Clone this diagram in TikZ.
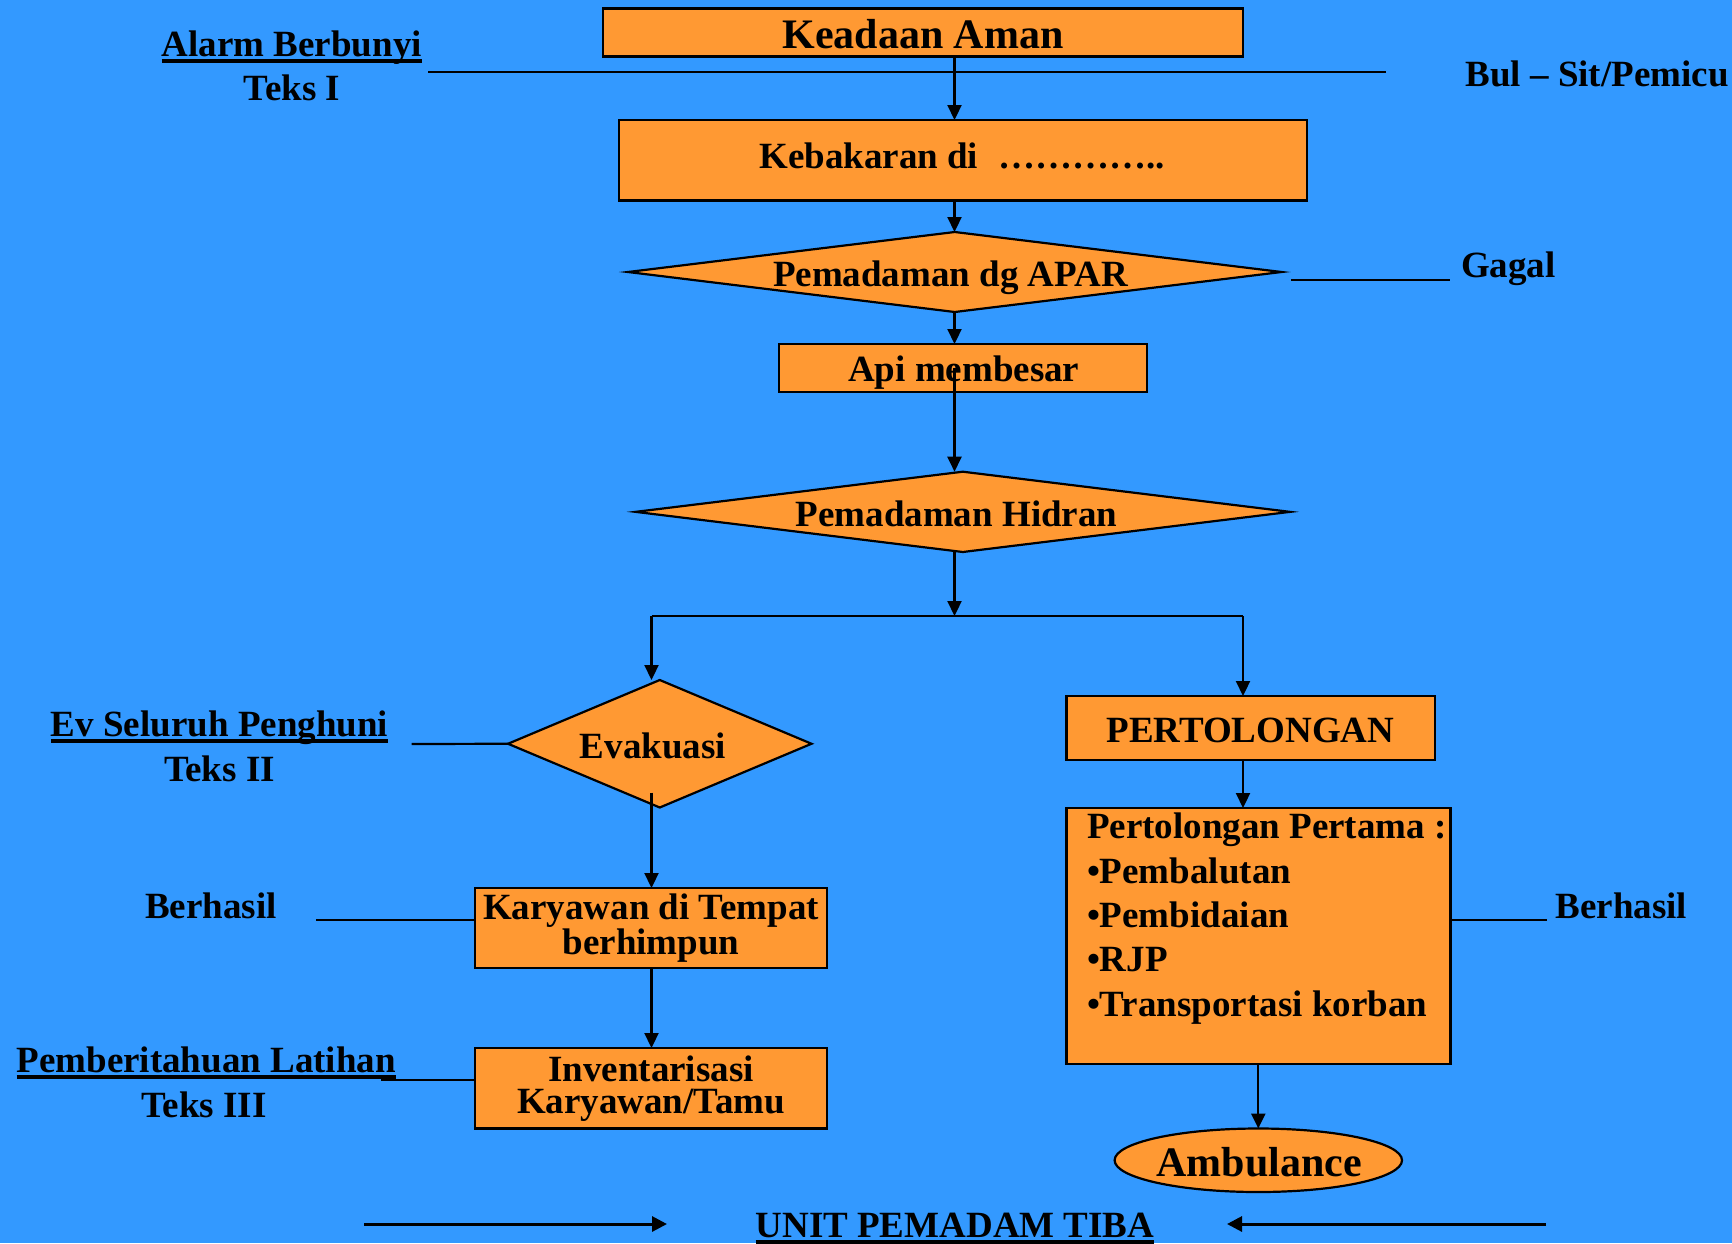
\documentclass[tikz,border=0pt]{standalone}
\usepackage{fontspec}
\setmainfont{Liberation Serif}
\usetikzlibrary{shapes.geometric,arrows.meta}
\definecolor{bgblue}{RGB}{51,153,255}
\definecolor{boxorange}{RGB}{255,153,51}
\newsavebox\ulbx
\newcommand\ulx[1]{\sbox\ulbx{#1}\rlap{\rule[-6.5pt]{\wd\ulbx}{3.2pt}}\usebox\ulbx}
\begin{document}
\begin{tikzpicture}[x=1pt,y=-1pt,
  every node/.style={inner sep=0pt, outer sep=0pt, font=\bfseries\fontsize{37}{37}\selectfont},
  box/.style={draw, fill=boxorange, line width=2.2pt},
  twoline/.style={align=center, font=\bfseries\fontsize{37}{32}\selectfont},
  dia/.style={diamond, draw, fill=boxorange, line width=2.2pt},
  ln/.style={line width=2.2pt},
  arr/.style={line width=2.2pt, -{Triangle[length=15pt,width=14pt]}},
  arrb/.style={line width=3pt, -{Triangle[length=15pt,width=15pt]}},
  big/.style={font=\bfseries\fontsize{42}{42}\selectfont},
  lbl/.style={anchor=base},
  lblw/.style={anchor=base west}]

\fill[bgblue] (0,0) rectangle (1732,1243);
\useasboundingbox (0,0) rectangle (1732,1243);

% column coordinates
\coordinate (colM) at (954.5,0);
\coordinate (colL) at (651.5,0);
\coordinate (colR) at (1243,0);
\coordinate (split) at (954.5,616);

% side line (drawn first so arrows sit on top)
\coordinate (bulL) at (428,72);
\coordinate (bulR) at (1386,72);
\draw[ln] (bulL) -- (bulR);

% boxes
\node[box, minimum width=640, minimum height=48] (keadaan) at (923,32.5) {};
\node[box, minimum width=688, minimum height=80.5] (kebakaran) at (963,160.25) {};
\node[dia, minimum width=653.5, minimum height=80] (apar) at (954.75,272) {};
\node[box, minimum width=368, minimum height=48.3] (api) at (963,368.15) {};
\node[dia, minimum width=654.4, minimum height=80.3] (hidran) at (962.8,511.85) {};
\node[dia, minimum width=303.5, minimum height=127.5] (evak) at (659.75,743.75) {};
\node[box, twoline, minimum width=352, minimum height=80] (kary) at (651,928) {Karyawan di Tempat\\berhimpun};
\node[box, twoline, minimum width=352, minimum height=80.5] (inv) at (651,1088.25) {Inventarisasi\\Karyawan/Tamu};
\node[box, minimum width=368.5, minimum height=64] (pert) at (1250.75,728) {};
\node[box, minimum width=384, minimum height=256] (pp) at (1258.5,936) {};
\node[ellipse, draw, fill=boxorange, line width=2.2pt, minimum width=287.4, minimum height=63.5] (amb) at (1258.3,1160.25) {};

% box texts
\node[lbl, big] (keadaanT) at (923,48.3) {Keadaan Aman};
\node[lbl] (kebT) at (962,168) {Kebakaran di\hspace{20pt}…………..};
\node[lbl] (aparT) at (950.5,286.7) {Pemadaman dg APAR};
\node[lbl] (apiT) at (963.8,381) {Api membesar};
\node[lbl] (hidranT) at (956.5,526) {Pemadaman Hidran};
\node[lbl] (evakT) at (652.9,758) {Evakuasi};
\node[lbl] (pertT) at (1250.4,742) {PERTOLONGAN};
\node[lblw] (ppT0) at (1087,838.5) {Pertolongan Pertama :};
\node[lblw] (ppT1) at (1087,883) {•Pembalutan};
\node[lblw] (ppT2) at (1087,927) {•Pembidaian};
\node[lblw] (ppT3) at (1087,971.6) {•RJP};
\node[lblw] (ppT4) at (1087,1016) {•Transportasi korban};
\node[lbl, big] (ambT) at (1259,1176.7) {Ambulance};

% side labels
\node[lbl] (alarm) at (291.8,56) {\ulx{Alarm Berbunyi}};
\node[lbl] (teks1) at (292,100) {Teks I};
\node[lblw] (bul) at (1465.5,86.7) {Bul – Sit/Pemicu};
\node[lblw] (gagal) at (1461,277.7) {Gagal};
\node[lbl] (evs) at (219.6,736) {\ulx{Ev Seluruh Penghuni}};
\node[lbl] (teks2) at (219.6,781) {Teks II};
\node[lbl] (berL) at (211,918) {Berhasil};
\node[lblw] (pemb) at (16.6,1072) {\ulx{Pemberitahuan Latihan}};
\node[lbl] (teks3) at (203.9,1117) {Teks III};
\node[lblw] (berR) at (1555.5,918) {Berhasil};
\node[lbl] (unit) at (955,1237) {\ulx{UNIT PEMADAM TIBA}};

% side connectors
\coordinate (gagL) at (1291,280);
\coordinate (gagR) at (1450,280);
\draw[ln] (gagL) -- (gagR);
\coordinate (evLine) at (411.6,744);
\draw[ln] (evLine) -- (evak.west);
\coordinate (berLine) at (316,920);
\draw[ln] (berLine) -- (berLine -| kary.west);
\coordinate (pembLine) at (381,1080);
\draw[ln] (pembLine) -- (pembLine -| inv.west);
\coordinate (berRLine) at (1546.6,920);
\draw[ln] (berRLine -| pp.east) -- (berRLine);

% main flow connectors
\draw[arr] (keadaan.south -| colM) -- (kebakaran.north -| colM);
\draw[arr] (kebakaran.south -| colM) -- (apar.north -| colM);
\draw[arr] (apar.south -| colM) -- (api.north -| colM);
\draw[arr] (api.center -| colM) -- (hidran.north -| colM);
\draw[arr] (hidran.south -| colM) -- (split);
\draw[ln] (split -| colL) -- (split -| colR);
\draw[arr] (split -| colL) -- (evak.north -| colL);
\draw[arr] (split -| colR) -- (pert.north -| colR);
\coordinate (evakIn) at ([yshift=15pt]evak.south);
\draw[arr] (evakIn -| colL) -- (kary.north -| colL);
\draw[arr] (kary.south -| colL) -- (inv.north -| colL);
\draw[arr] (pert.south -| colR) -- (pp.north -| colR);
\draw[arr] (pp.south -| amb.north) -- (amb.north);

% bottom arrows
\coordinate (botL1) at (364,1224);
\coordinate (botL2) at (667,1224);
\coordinate (botR1) at (1546,1224);
\coordinate (botR2) at (1227,1224);
\draw[arrb] (botL1) -- (botL2);
\draw[arrb] (botR1) -- (botR2);
\end{tikzpicture}
\end{document}
